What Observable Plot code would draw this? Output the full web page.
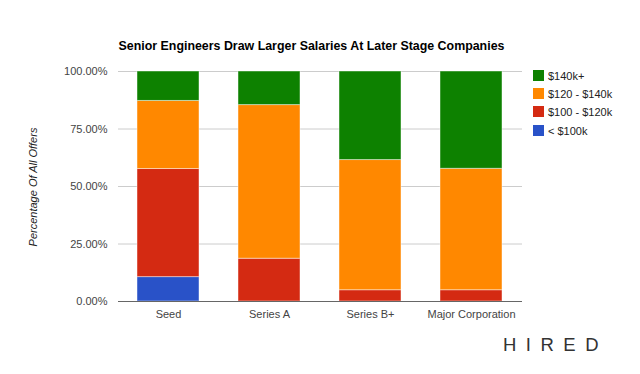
<!DOCTYPE html>
<html><head><meta charset="utf-8">
<script src="https://cdn.jsdelivr.net/npm/d3@7"></script>
<script src="https://cdn.jsdelivr.net/npm/@observablehq/plot@0.6"></script>
<style>
body{margin:0;background:#fff;font-family:"Liberation Sans",Arial,sans-serif;}
#wrap{position:relative;width:640px;height:374px;overflow:hidden;}
#title{position:absolute;left:0;width:623px;top:39px;text-align:center;font-weight:bold;font-size:12.4px;color:#000;}
#ylab{position:absolute;left:33px;top:187px;transform:translate(-50%,-50%) rotate(-90deg);font-style:italic;font-size:11px;color:#222;white-space:nowrap;}
.leg{position:absolute;left:533px;font-size:11px;color:#222;height:12px;line-height:12px;white-space:nowrap;}
.leg span{display:inline-block;width:11px;height:11px;vertical-align:top;margin-right:4px;box-sizing:border-box;}
#logo{position:absolute;left:503px;top:334px;font-size:18.5px;letter-spacing:9.5px;color:#333;font-family:"Liberation Sans",Arial,sans-serif;}
</style></head>
<body><div id="wrap"></div>
<script>
const stages = ["Seed", "Series A", "Series B+", "Major Corporation"];
const bands = ["< $100k", "$100 - $120k", "$120 - $140k", "$140k+"];
const under100 = [10.6, 0, 0, 0];
const r100_120 = [47.0, 18.6, 4.9, 4.9];
const r120_140 = [29.6, 66.8, 56.6, 52.8];
const over140 = [12.8, 14.6, 38.5, 42.3];
const colors = ["#2952c8", "#d42a12", "#ff8800", "#0d8100"];
const yTicks = [0, 0.25, 0.5, 0.75, 1];

const series = [under100, r100_120, r120_140, over140];
const data = [];
stages.forEach((s, i) => series.forEach((arr, j) => {
  if (arr[i] > 0) data.push({stage: s, band: bands[j], pct: arr[i] / 100});
}));

const chart = Plot.plot({
  width: 640, height: 374,
  marginTop: 71, marginBottom: 73, marginLeft: 118, marginRight: 118,
  style: {fontFamily: '"Liberation Sans", Arial, sans-serif', fontSize: "11px", color: "#444", background: "transparent"},
  x: {domain: stages, paddingInner: 0.386, paddingOuter: 0.193, label: null, tickSize: 0, tickPadding: 9},
  y: {domain: [0, 1], ticks: yTicks, tickFormat: d3.format(".2%"), label: null, tickSize: 0, tickPadding: 11},
  color: {domain: bands, range: colors},
  marks: [
    Plot.gridY(yTicks, {stroke: "#cccccc", strokeOpacity: 1}),
    Plot.barY(data, {x: "stage", y: "pct", fill: "band", order: bands, stroke: "#ffffff", strokeOpacity: 0.45, strokeWidth: 1}),
    Plot.ruleY([0], {stroke: "#666"})
  ]
});

const wrap = document.getElementById("wrap");
wrap.appendChild(chart);
chart.style.position = "absolute"; chart.style.left = "0"; chart.style.top = "0";

const t = document.createElement("div"); t.id = "title";
t.textContent = "Senior Engineers Draw Larger Salaries At Later Stage Companies";
wrap.appendChild(t);
const yl = document.createElement("div"); yl.id = "ylab"; yl.textContent = "Percentage Of All Offers";
wrap.appendChild(yl);
const legTops = [70, 88, 106, 125];
[3, 2, 1, 0].forEach((j, k) => {
  const d = document.createElement("div"); d.className = "leg"; d.style.top = legTops[k] + "px";
  const sw = document.createElement("span"); sw.style.background = colors[j];
  d.appendChild(sw); d.appendChild(document.createTextNode(bands[j]));
  wrap.appendChild(d);
});
const lg = document.createElement("div"); lg.id = "logo"; lg.textContent = "HIRED";
wrap.appendChild(lg);
</script></body></html>
